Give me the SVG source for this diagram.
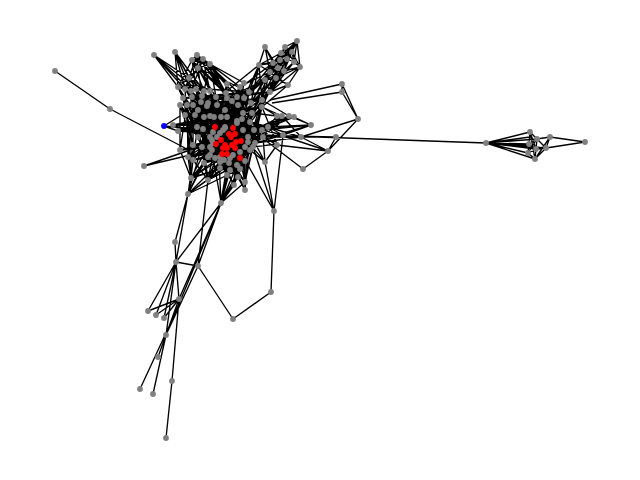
<svg xmlns="http://www.w3.org/2000/svg" width="640" height="480" viewBox="0 0 640 480">
<style>
.e{fill:none;stroke:#000;stroke-width:1.35;stroke-linejoin:round}
.g{fill:#808080}.r{fill:#f00}.b{fill:#00f}
</style>
<defs><circle id="n" r="2.9"/></defs>
<rect width="640" height="480" fill="#fff"/>
<g id="connectors">
<path class="e" d="M55 71L110 109L185 148M144 166L190 150M144 166L186 156M164 126L180 116M164 126L178 131M164 126L185 128M173 125L200 135"/>
<path class="e" d="M178 87L249 92L183 98L270 92L180 105L262 100L185 115L262 107L173 125L252 113L178 131L254 130L198 137L268 127L193 145L263 137L188 157L255 143L193 160L253 147L204 163L250 150L208 180L245 161L191 178L248 142L180 150L262 130L185 115L254 130L187 105L268 127L193 105L263 137L192 97L255 143L185 89L253 147L191 91L250 150L196 89L245 161L204 91L245 161L210 91L238 177"/>
<path class="e" d="M185 89L191 178L191 91L208 180L196 89L220 168L204 91L227 175L210 91L238 177L226 93L245 182L239 87L234 185L249 92L227 175L227 84L208 180L244 83L221 202L240 87L191 178L232 101L188 194L216 97L221 202L202 96L245 190L192 97L234 185L187 105L245 182L180 105L238 177L183 98L227 175L178 87L220 168L262 100L208 180L262 107L191 178L252 113L204 163L254 130L188 157L268 127L220 168L263 137L229 163L255 143L237 165L250 150L230 170L245 161L221 202L253 147L188 194"/>
<path class="e" d="M198 110L251 103L195 115L243 113L204 117L252 113L210 116L262 107L214 117L254 130L221 117L262 130L227 117L268 127L237 121L198 137L242 119L212 140L250 122L210 147L254 130L202 147L248 142L193 145L255 143L188 157L253 147L204 163L250 150L220 162L240 120L229 163L225 110L237 165L217 105L245 161L208 103L230 170L201 102L240 169L193 105L238 105L187 105L232 101L180 105L227 98L183 98L237 97L192 97L244 98L202 96L262 100L216 97L251 103L208 103L243 113L207 106L225 127L197 127L213 132L203 129L225 127L178 131L250 122L173 125L237 121L185 115L227 117L195 115L221 117"/>
<path class="e" d="M204 117L204 163L213 132L220 168L225 127L227 175L232 101L238 177L238 105L245 182L243 113L234 185L251 103L245 190L252 113L234 185L262 107L245 182L262 100L238 177L244 98L230 170L237 97L220 162L227 98L212 157L216 97L208 157L208 103L204 163L201 102L193 160L193 105L188 157L187 105L180 150L180 105L193 145L183 98L198 137L192 97L212 140L202 96L210 147L216 97L248 142L227 98L255 143L237 97L250 150"/>
<path class="e" d="M268 127L215 158L263 137L210 155L262 130L212 150L254 130L185 128L262 107L178 131L252 113L188 157L249 92L193 160L240 87L204 163L227 84L220 168L210 91L230 170L204 91L240 169L196 89L237 165L191 91L245 161L185 89L229 163L178 87L208 157L180 105L212 150M173 125L268 127M178 131L263 137M180 150L255 143M188 157L245 147M193 160L240 152M204 163L245 147M191 178L248 137M208 180L243 130M227 175L237 121M238 177L225 128M245 182L217 137"/>
<path class="e" d="M154 55L178 87M154 55L185 89M154 55L189 78M154 55L196 89M154 55L191 91M175 52L189 78M175 52L191 91M175 52L178 87M175 52L196 89M175 52L204 91M175 52L185 89M197 55L189 78M197 55L185 89M197 55L210 91M197 55L226 93M197 55L192 60L203 59L210 64L198 68L197 55L203 59L198 68L192 60L210 64L197 55M192 60L196 89M192 60L204 91M192 60L178 87M203 59L191 91M203 59L210 91M203 59L227 84M203 59L240 87M210 64L204 91M210 64L226 93M210 64L240 87M210 64L227 84M210 64L216 97M198 68L185 89M198 68L202 96M198 68L189 78M198 68L226 93M198 68L216 97M189 78L178 87L185 89L189 78L196 89L204 91L189 78L210 91M189 78L192 97M210 64L244 83M198 68L238 105M203 59L232 101M192 60L216 97M198 68L249 92M210 64L227 98M203 59L244 98M192 60L226 93M197 55L227 98M203 59L237 97M198 68L210 91"/>
<path class="e" d="M265 47L259 65M265 47L273 63M265 47L270 72M265 47L278 68M285 47L297 41L292 52L281 53L285 47L287 59L297 41L294 62L285 47L292 52L300 67L297 41L287 59L281 53L280 60L273 63L281 53L278 68L287 59L284 71L292 52L294 62L300 67L284 71L278 68L270 72L273 63L278 68L276 78L284 71L270 72L276 78L265 80L270 72L259 65L273 63L280 60L287 59L294 62L284 71L276 78L288 85L270 72M280 60L284 71M297 41L273 63M297 41L278 68M285 47L270 72M300 67L276 78M259 65L228 90M259 65L244 98M259 65L249 92M259 65L262 100M270 72L249 92M270 72L262 100M270 72L239 87M276 78L262 100M276 78L251 103M276 78L262 107M265 80L244 98M265 80L251 103M265 80L270 92L276 78M270 92L284 71M288 85L270 92L262 100M273 63L240 88M278 68L252 113M265 80L262 107M288 85L262 107M270 72L244 98M285 47L265 80M292 52L276 78M297 41L270 72M281 53L259 65M287 59L265 80M294 62L270 92M300 67L270 92M280 60L276 78M273 63L265 80M281 53L270 72M287 59L276 78M284 71L262 100M278 68L249 92M273 63L251 103M284 71L265 80M292 52L278 68M285 47L278 68M280 60L265 80M300 67L288 85M294 62L276 78M287 59L259 65M273 63L244 98M278 68L262 107M270 72L252 113M276 78L243 113M265 80L237 97M259 65L251 103M265 80L227 98M270 92L243 113M270 92L251 103"/>
<path class="e" d="M342 84L270 100M342 92L272 103M342 84L358 119L342 92L342 84M358 119L301 137M358 119L328 151M336 137L328 151M311 125L289 116M311 125L277 135M311 125L262 130M311 125L294 117M301 137L328 151M301 137L282 116M283 136L328 151M277 145L328 151M303 169L265 140M303 169L328 151M283 136L274 211M294 117L262 130M294 117L268 127M289 116L262 137M282 116L254 130M277 116L253 147M277 116L263 137M277 116L255 143M282 116L268 127M289 116L268 127M301 137L262 137M301 137L255 143M336 137L263 137M336 137L283 136M277 145L254 130M277 145L263 137M283 135L262 130M283 135L255 143M283 135L268 127M277 144L253 147M277 144L262 107M262 135L486 143M289 116L254 130M294 117L270 122M265 162L250 150M265 162L255 143M265 162L263 137M265 162L277 145M265 162L248 142M277 116L262 107M282 116L262 107M277 116L252 113M289 116L262 100M268 127L301 137M283 135L263 137M311 125L268 127M311 125L283 135M263 137L277 145"/>
<path class="e" d="M486 143L530 132M486 143L537 139M486 143L529 144M486 143L546 148M486 143L536 149M486 143L528 153M486 143L535 159M486 143L530 137M486 143L533 146M530 132L537 139L550 137L585 142L546 148L535 159L528 153L529 144L530 132L536 149L546 148L537 139L529 144L536 149L535 159L530 132M528 153L537 139L535 159L550 137L546 148M528 153L536 149"/>
<path class="e" d="M176 262L148 311M176 262L156 315M176 262L164 318M176 262L166 335M176 262L179 299M176 262L198 266M176 262L175 242L188 194L176 262L221 203M198 266L233 319L271 292L274 211L265 162M274 211L245 160M198 266L208 180M198 266L221 203M179 299L221 203M166 335L221 203M166 438L172 381L179 299M166 335L179 299M158 357L179 299M140 389L179 305M153 394L166 335M148 311L179 299M156 315L179 299M164 318L179 299M166 335L198 266M158 357L166 335M188 194L191 178M188 194L240 169M188 194L252 147M221 203L238 177M221 203L245 182M221 203L227 175M221 203L250 150M221 203L234 185M245 190L245 161M274 211L253 147M208 180L220 162M191 178L204 163M191 178L193 160M191 178L245 161M191 178L188 157M191 178L180 150M221 203L240 169M221 203L237 165M221 203L230 170M221 203L229 163M221 203L245 161M188 194L204 163M188 194L220 162M188 194L193 160M208 180L204 163M208 180L193 160M208 180L229 163M208 180L237 165"/>
</g>
<g id="nodes-gray" class="g">
<use id="n1" href="#n" x="55" y="71"/><use href="#n" x="110" y="109"/><use href="#n" x="144" y="166"/>
<use href="#n" x="154" y="55"/><use href="#n" x="175" y="52"/><use href="#n" x="197" y="55"/><use href="#n" x="192" y="60"/><use href="#n" x="203" y="59"/><use href="#n" x="210" y="64"/><use href="#n" x="198" y="68"/>
<use href="#n" x="265" y="47"/><use href="#n" x="285" y="47"/><use href="#n" x="297" y="41"/><use href="#n" x="281" y="53"/><use href="#n" x="292" y="52"/><use href="#n" x="287" y="59"/><use href="#n" x="280" y="60"/><use href="#n" x="273" y="63"/><use href="#n" x="259" y="65"/><use href="#n" x="294" y="62"/><use href="#n" x="300" y="67"/><use href="#n" x="278" y="68"/><use href="#n" x="270" y="72"/><use href="#n" x="284" y="71"/><use href="#n" x="276" y="78"/><use href="#n" x="265" y="80"/><use href="#n" x="288" y="85"/>
<use href="#n" x="189" y="78"/><use href="#n" x="178" y="87"/><use href="#n" x="227" y="84"/><use href="#n" x="244" y="83"/><use href="#n" x="240" y="87"/>
<use href="#n" x="185" y="89"/><use href="#n" x="191" y="91"/><use href="#n" x="196" y="89"/><use href="#n" x="204" y="91"/><use href="#n" x="210" y="91"/><use href="#n" x="226" y="93"/><use href="#n" x="249" y="92"/><use href="#n" x="270" y="92"/>
<use href="#n" x="183" y="98"/><use href="#n" x="192" y="97"/><use href="#n" x="202" y="96"/><use href="#n" x="216" y="97"/><use href="#n" x="227" y="98"/><use href="#n" x="237" y="97"/><use href="#n" x="244" y="98"/><use href="#n" x="262" y="100"/>
<use href="#n" x="180" y="105"/><use href="#n" x="187" y="105"/><use href="#n" x="193" y="105"/><use href="#n" x="201" y="102"/><use href="#n" x="208" y="103"/><use href="#n" x="217" y="105"/><use href="#n" x="232" y="101"/><use href="#n" x="238" y="105"/><use href="#n" x="251" y="103"/><use href="#n" x="262" y="107"/>
<use href="#n" x="198" y="110"/><use href="#n" x="207" y="106"/><use href="#n" x="225" y="110"/><use href="#n" x="252" y="113"/><use href="#n" x="243" y="113"/>
<use href="#n" x="185" y="115"/><use href="#n" x="195" y="115"/><use href="#n" x="204" y="117"/><use href="#n" x="210" y="116"/><use href="#n" x="214" y="117"/><use href="#n" x="221" y="117"/><use href="#n" x="227" y="117"/><use href="#n" x="237" y="121"/><use href="#n" x="242" y="119"/><use href="#n" x="250" y="122"/><use href="#n" x="277" y="116"/><use href="#n" x="282" y="116"/><use href="#n" x="289" y="116"/><use href="#n" x="294" y="117"/>
<use href="#n" x="173" y="125"/><use href="#n" x="178" y="131"/><use href="#n" x="197" y="127"/><use href="#n" x="203" y="129"/><use href="#n" x="225" y="127"/><use href="#n" x="213" y="132"/><use href="#n" x="254" y="130"/><use href="#n" x="262" y="130"/><use href="#n" x="268" y="127"/><use href="#n" x="263" y="137"/><use href="#n" x="311" y="125"/><use href="#n" x="283" y="135"/>
<use href="#n" x="198" y="137"/><use href="#n" x="212" y="140"/><use href="#n" x="210" y="147"/><use href="#n" x="248" y="142"/><use href="#n" x="255" y="143"/><use href="#n" x="277" y="145"/><use href="#n" x="301" y="137"/><use href="#n" x="336" y="137"/><use href="#n" x="328" y="151"/><use href="#n" x="303" y="169"/><use href="#n" x="265" y="162"/><use href="#n" x="342" y="84"/><use href="#n" x="342" y="92"/><use href="#n" x="358" y="119"/>
<use href="#n" x="180" y="150"/><use href="#n" x="193" y="145"/><use href="#n" x="202" y="147"/><use href="#n" x="188" y="157"/><use href="#n" x="193" y="160"/><use href="#n" x="208" y="157"/><use href="#n" x="204" y="163"/><use href="#n" x="220" y="162"/><use href="#n" x="229" y="163"/><use href="#n" x="237" y="165"/><use href="#n" x="245" y="161"/><use href="#n" x="250" y="150"/><use href="#n" x="253" y="147"/>
<use href="#n" x="191" y="178"/><use href="#n" x="188" y="194"/><use href="#n" x="208" y="180"/><use href="#n" x="220" y="168"/><use href="#n" x="227" y="175"/><use href="#n" x="238" y="177"/><use href="#n" x="245" y="182"/><use href="#n" x="245" y="190"/><use href="#n" x="221" y="203"/><use href="#n" x="234" y="185"/><use href="#n" x="230" y="170"/><use href="#n" x="240" y="169"/>
<use href="#n" x="210" y="137"/><use href="#n" x="213" y="143"/><use href="#n" x="212" y="150"/><use href="#n" x="220" y="133"/><use href="#n" x="225" y="128"/><use href="#n" x="243" y="130"/><use href="#n" x="248" y="137"/><use href="#n" x="245" y="147"/><use href="#n" x="240" y="152"/><use href="#n" x="233" y="155"/><use href="#n" x="230" y="158"/><use href="#n" x="215" y="158"/><use href="#n" x="210" y="155"/><use href="#n" x="217" y="137"/><use href="#n" x="223" y="130"/><use href="#n" x="237" y="123"/><use href="#n" x="220" y="157"/><use href="#n" x="224" y="160"/>
<use href="#n" x="486" y="143"/><use href="#n" x="530" y="132"/><use href="#n" x="537" y="139"/><use href="#n" x="550" y="137"/><use href="#n" x="585" y="142"/><use href="#n" x="546" y="148"/><use href="#n" x="529" y="144"/><use href="#n" x="536" y="149"/><use href="#n" x="528" y="153"/><use href="#n" x="535" y="159"/>
<use href="#n" x="274" y="211"/><use href="#n" x="175" y="242"/><use href="#n" x="176" y="262"/><use href="#n" x="198" y="266"/><use href="#n" x="179" y="299"/><use href="#n" x="148" y="311"/><use href="#n" x="156" y="315"/><use href="#n" x="164" y="318"/><use href="#n" x="166" y="335"/><use href="#n" x="158" y="357"/><use href="#n" x="172" y="381"/><use href="#n" x="140" y="389"/><use href="#n" x="153" y="394"/><use href="#n" x="166" y="438"/><use href="#n" x="233" y="319"/><use href="#n" x="271" y="292"/>
</g>
<g id="nodes-red" class="r">
<use href="#n" x="215" y="127"/><use href="#n" x="233" y="128"/><use href="#n" x="229" y="134"/><use href="#n" x="235" y="134"/><use href="#n" x="231" y="137"/><use href="#n" x="221" y="140"/><use href="#n" x="216" y="144"/><use href="#n" x="241" y="141"/><use href="#n" x="236" y="142"/><use href="#n" x="232" y="145"/><use href="#n" x="225" y="145"/><use href="#n" x="227" y="148"/><use href="#n" x="223" y="148"/><use href="#n" x="235" y="148"/><use href="#n" x="222" y="154"/><use href="#n" x="227" y="154"/><use href="#n" x="240" y="158"/>
</g>
<g id="node-blue" class="b"><use href="#n" x="164" y="126"/></g>
</svg>
